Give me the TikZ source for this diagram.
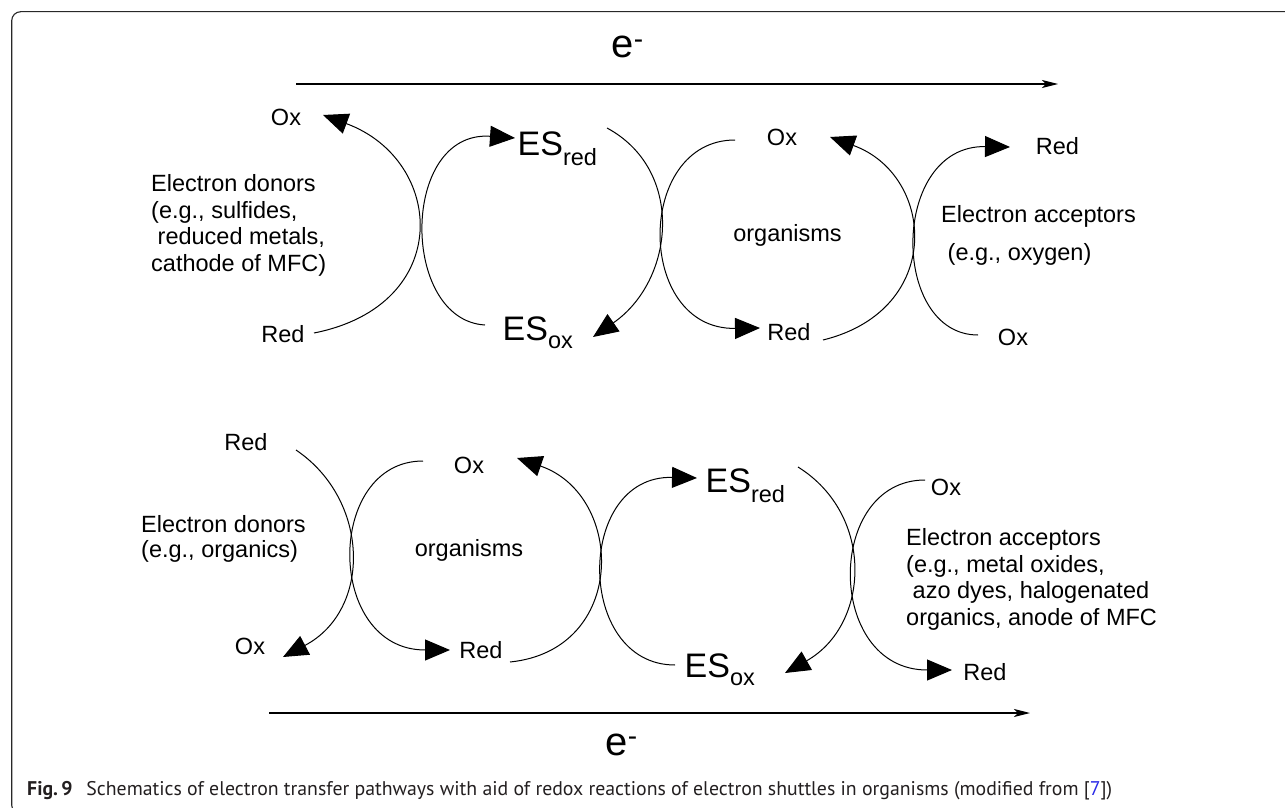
\documentclass[tikz,border=0pt]{standalone}
\usepackage{fontspec}
\setmainfont{Liberation Sans}
\newfontfamily\capfont{PT Sans}
\usepackage{graphicx}
\usetikzlibrary{arrows.meta}
\definecolor{captext}{RGB}{35,31,32}
\definecolor{linkblue}{RGB}{40,40,230}
\definecolor{framecol}{RGB}{40,40,40}
\newcommand{\lowsub}[2]{{\fontsize{23.5}{28}\selectfont\raisebox{-#1}{#2}}}
\begin{document}
\begin{tikzpicture}[x=1pt,y=-1pt,
  lbl/.style={font=\fontsize{23.5}{28}\selectfont, inner sep=0pt},
  block/.style={font=\fontsize{23.5}{26.6}\selectfont, inner sep=0pt, align=left, anchor=north west},
  es/.style={font=\fontsize{34}{40}\selectfont, inner sep=0pt, anchor=base west},
  big/.style={font=\fontsize{40}{46}\selectfont, inner sep=0pt, anchor=base west},
  redox/.style={line width=1pt, -{Triangle[length=25pt,width=21pt]}},
  flow/.style={line width=1.2pt, -{Stealth[length=16pt,width=8pt,inset=4pt]}},
  ]
\useasboundingbox (0,0) rectangle (1285,808);
\begin{scope}
  \clip (0,0) rectangle (1285,808);
  \draw[framecol, line width=1.1pt, rounded corners=9pt] (11.7,11.7) rectangle (1310,814);
\end{scope}

% ---------- top row ----------
\coordinate (topL) at (296,84);
\coordinate (topR) at (1058,84);
\draw[flow] (topL) -- (topR);
\node[big] (eTop) at (611.5,58) {e\textsuperscript{-}};

\node[block] (donA) at (151,174.2) {Electron donors\\(e.g., sulfides,\\\hspace*{6.5pt}reduced metals,\\cathode of MFC)};
\node[lbl, anchor=base] (oxA) at (286,125) {Ox};
\node[lbl, anchor=base] (redA) at (283,342.5) {Red};
\node[es] (esredA) at (517.5,155) {ES\lowsub{10pt}{red}};
\node[es] (esoxA) at (502.5,340) {ES\lowsub{8.5pt}{ox}};
\node[lbl, anchor=base] (oxB) at (782,145.5) {Ox};
\node[lbl, anchor=base] (orgA) at (787.5,241.5) {organisms};
\node[lbl, anchor=base] (redB) at (789,340) {Red};
\node[lbl, anchor=base] (redC) at (1057.5,154) {Red};
\node[lbl, anchor=base] (oxC) at (1013,345) {Ox};
\node[block] (accA) at (941,205.2) {Electron acceptors\\[11.4pt]\hspace*{6.5pt}(e.g., oxygen)};

\coordinate (c1s) at (314,333);  \coordinate (c1e) at (323,115);
\coordinate (c2s) at (485,325);  \coordinate (c2e) at (515,138);
\coordinate (c3s) at (607,128);  \coordinate (c3e) at (593,337);
\coordinate (c4s) at (735,140);  \coordinate (c4e) at (760,328);
\coordinate (c5s) at (823,340);  \coordinate (c5e) at (830,137);
\coordinate (c6s) at (978,335);  \coordinate (c6e) at (1010,147);

\draw[redox] (c1s) .. controls (455,305) and (445,160) .. (c1e);
\draw[redox] (c2s) .. controls (400,320) and (400,130) .. (c2e);
\draw[redox] (c3s) .. controls (685,170) and (675,280) .. (c3e);
\draw[redox] (c4s) .. controls (635,140) and (635,330) .. (c4e);
\draw[redox] (c5s) .. controls (945,310) and (935,175) .. (c5e);
\draw[redox] (c6s) .. controls (890,335) and (890,145) .. (c6e);

% ---------- bottom row ----------
\coordinate (botL) at (269,713);
\coordinate (botR) at (1030,713);
\draw[flow] (botL) -- (botR);
\node[big] (eBot) at (605.5,755) {e\textsuperscript{-}};

\node[lbl, anchor=base] (redD) at (246,450) {Red};
\node[lbl, anchor=base] (oxD) at (250,654) {Ox};
\node[block, font=\fontsize{23.5}{25.3}\selectfont] (donB) at (141,515.2) {Electron donors\\(e.g., organics)};
\node[lbl, anchor=base] (oxE) at (469,473) {Ox};
\node[lbl, anchor=base] (orgB) at (469,556) {organisms};
\node[lbl, anchor=base] (redE) at (481,658) {Red};
\node[es] (esredB) at (705.5,492) {ES\lowsub{10pt}{red}};
\node[es] (esoxB) at (684.5,677) {ES\lowsub{8.5pt}{ox}};
\node[lbl, anchor=base] (oxF) at (946,495) {Ox};
\node[lbl, anchor=base] (redF) at (985,680) {Red};
\node[block] (accB) at (906,528.2) {Electron acceptors\\(e.g., metal oxides,\\\hspace*{6.5pt}azo dyes, halogenated\\organics, anode of MFC};

\coordinate (d1s) at (296,450);  \coordinate (d1e) at (283,657);
\coordinate (d2s) at (423,461);  \coordinate (d2e) at (450,650);
\coordinate (d3s) at (510,662);  \coordinate (d3e) at (517,458);
\coordinate (d4s) at (675,665);  \coordinate (d4e) at (697,478);
\coordinate (d5s) at (798,467);  \coordinate (d5e) at (785,673);
\coordinate (d6s) at (925,480);  \coordinate (d6e) at (952,670);

\draw[redox] (d1s) .. controls (370,500) and (372,610) .. (d1e);
\draw[redox] (d2s) .. controls (325,461) and (325,650) .. (d2e);
\draw[redox] (d3s) .. controls (628,650) and (625,495) .. (d3e);
\draw[redox] (d4s) .. controls (575,665) and (575,475) .. (d4e);
\draw[redox] (d5s) .. controls (875,515) and (870,625) .. (d5e);
\draw[redox] (d6s) .. controls (825,480) and (825,670) .. (d6e);

% ---------- caption ----------
\node[anchor=base west, inner sep=0pt, text=captext] (cap) at (27,795)
  {\resizebox{1085pt}{!}{\capfont\fontsize{17}{20}\selectfont\textbf{Fig.\,9}\hspace{0.7em}Schematics of electron transfer pathways with aid of redox reactions of electron shuttles in organisms (modified from [{\color{linkblue}7}])}};
\end{tikzpicture}
\end{document}
